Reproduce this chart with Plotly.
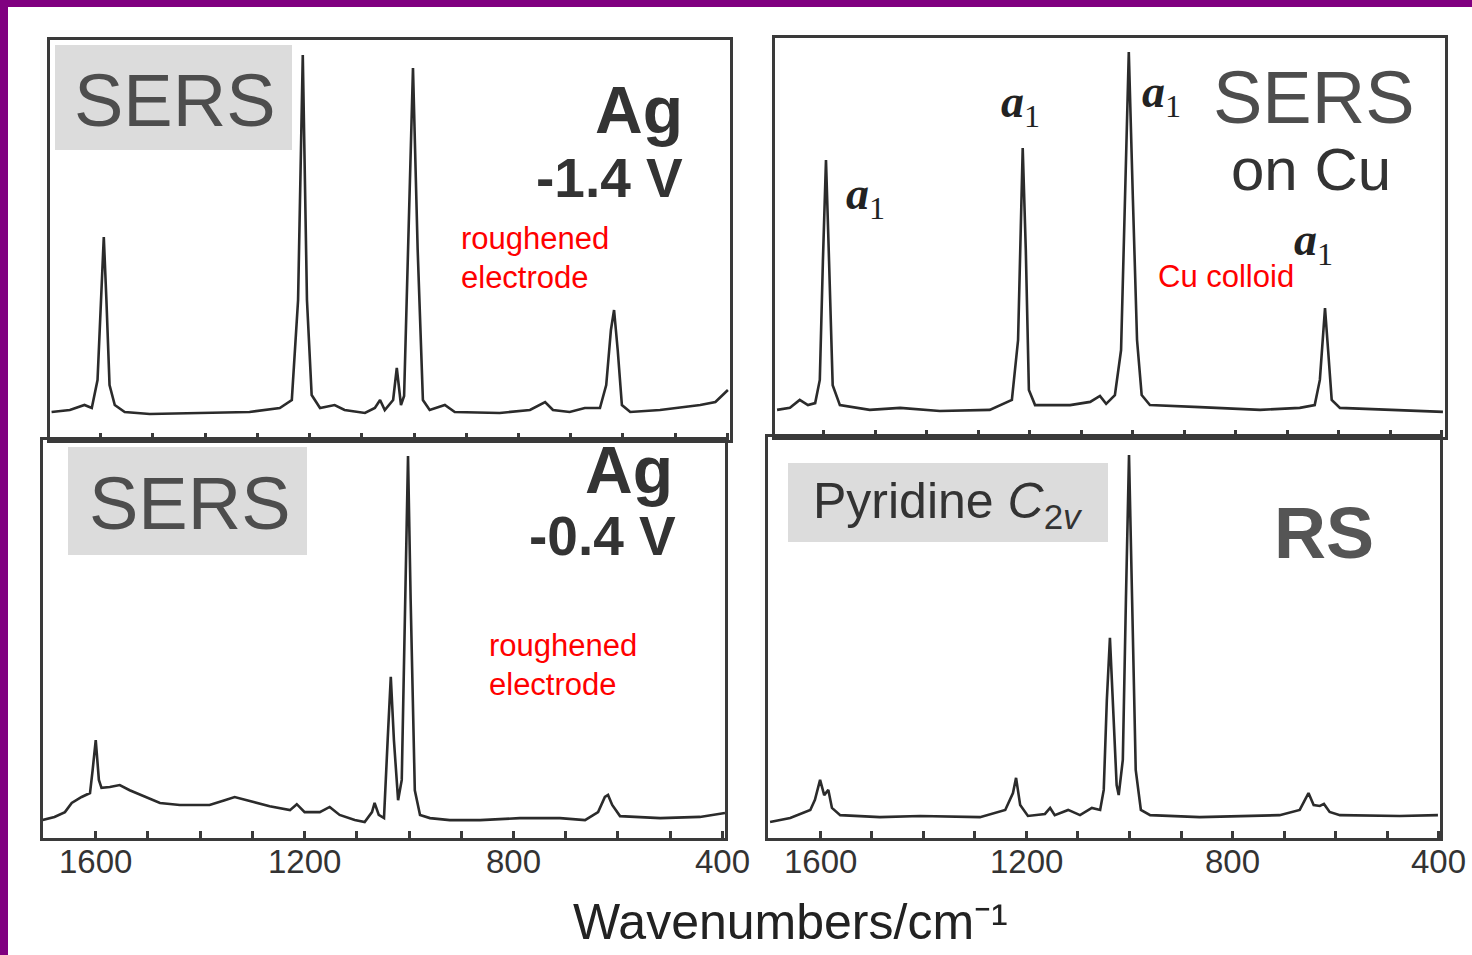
import plotly.graph_objects as go

W, H = 1472, 955

# ---------------- data (wavenumber / relative intensity) ----------------
wn_ag14 = [1694, 1659, 1631, 1617, 1606, 1600, 1594, 1589, 1583, 1573, 1554, 1506, 1410, 1315, 1257,
           1234, 1222, 1213, 1205, 1196, 1180, 1152, 1133, 1094, 1075, 1065, 1056, 1040, 1033, 1025,
           1019, 1012, 1002, 993, 983, 970, 941, 922, 836, 778, 749, 734, 702, 673, 644, 632, 623,
           617, 610, 602, 586, 529, 452, 423, 399]
int_ag14 = [7, 7.5, 8.75, 8, 15, 35, 50.75, 35, 13.75, 8.75, 7, 6.5, 6.75, 7, 8,
            10, 35, 96.25, 35, 11.25, 8, 8.75, 7.5, 6.75, 8, 10, 7.5, 10, 18, 8.75,
            11, 47.5, 93, 47.5, 10, 7.5, 8.75, 7, 6.75, 7.5, 9.5, 7.5, 7, 8, 8, 13.75, 27.5,
            32.5, 22.5, 8.75, 7, 7.5, 8.75, 9.5, 12.5]

wn_ag04 = [1702, 1679, 1659, 1646, 1627, 1611, 1606, 1600, 1594, 1589, 1573, 1554, 1535, 1506, 1477,
           1439, 1382, 1353, 1334, 1305, 1267, 1228, 1215, 1200, 1171, 1152, 1133, 1104, 1085, 1071,
           1066, 1058, 1048, 1041, 1035, 1029, 1021, 1014, 1008, 1002, 997, 989, 979, 960, 922, 864,
           788, 711, 663, 638, 625, 619, 611, 596, 519, 443, 395]
int_ag04 = [4.5, 5.3, 6.5, 8.8, 10.3, 11.3, 17, 24.6, 14.6, 12.6, 12.8, 13.3, 12, 10.3, 8.8,
            8.3, 8.3, 9.5, 10.3, 9.3, 8, 7, 8.5, 6.5, 6.5, 7.8, 5.8, 4.5, 4, 6.5,
            8.8, 5.8, 5, 24.6, 40.5, 24.6, 9.5, 14.6, 60, 96, 60, 12, 5.8, 5, 4.5, 4.5,
            5, 5, 4.5, 6.5, 10.3, 10.8, 8.3, 5.5, 5, 5.3, 6.3]

wn_cu = [1691, 1666, 1647, 1631, 1617, 1608, 1602, 1596, 1590, 1583, 1569, 1511, 1452, 1375, 1278,
         1235, 1223, 1219, 1214, 1208, 1202, 1190, 1122, 1083, 1064, 1052, 1035, 1023, 1016, 1008,
         1000, 992, 983, 967, 870, 753, 676, 647, 637, 631, 627, 621, 614, 598, 482, 398]
int_cu = [6.8, 7.3, 9.3, 8, 8.5, 14.3, 44, 69.4, 44, 13, 8, 6.8, 7.3, 6.5, 6.8,
          9.3, 24.3, 46.9, 72.4, 46.9, 11.8, 8, 8, 8.8, 10.3, 8.3, 10.5, 21.8, 59.4, 96.5,
          59.4, 24.3, 10.5, 8, 7.5, 6.8, 7.3, 8, 14.3, 26.8, 32.3, 21.8, 9.3, 7.3, 6.8, 6.3]

wn_rs = [1697, 1658, 1619, 1610, 1600, 1592, 1584, 1577, 1561, 1484, 1406, 1290, 1241, 1226, 1220,
         1212, 1197, 1164, 1154, 1145, 1119, 1096, 1073, 1057, 1050, 1044, 1038, 1032, 1025, 1021,
         1013, 1007, 1001, 995, 988, 978, 960, 864, 709, 670, 659, 653, 643, 631, 623, 612, 592,
         476, 402]
int_rs = [4, 5, 7, 9.5, 14.5, 10.7, 12, 7.5, 5.7, 5.2, 5.5, 5.2, 7, 11.2, 15,
          8.2, 5.5, 6, 7.5, 5.7, 7, 5.7, 7.5, 7, 12, 34.4, 49.9, 34.4, 13.2, 10.7,
          19.5, 59.4, 95.5, 59.4, 17, 7, 5.7, 5.2, 5.7, 7, 9.5, 11.2, 8.2, 8, 8.5, 6.5, 5.7,
          5.5, 5.7]

tick_vals = [1600, 1500, 1400, 1300, 1200, 1100, 1000, 900, 800, 700, 600, 500, 400]
label_vals = [1600, 1200, 800, 400]
label_text = ["1600", "1200", "800", "400"]

# ---------------- helpers ----------------
def X(px):
    return px / W

def Y(py):
    return 1 - py / H

LINE = "#2b2b2b"
FRAME = "#3a3a3a"

fig = go.Figure()
series = [(wn_ag14, int_ag14, "x", "y"),
          (wn_ag04, int_ag04, "x2", "y2"),
          (wn_cu, int_cu, "x3", "y3"),
          (wn_rs, int_rs, "x4", "y4")]
for xs, ys, xa, ya in series:
    fig.add_trace(go.Scatter(x=xs, y=ys, xaxis=xa, yaxis=ya, mode="lines",
                             line=dict(color=LINE, width=2.6), hoverinfo="skip"))

def xax(dom, rng, anchor):
    return dict(domain=dom, range=rng, anchor=anchor, showline=True, mirror=True,
                linecolor=FRAME, linewidth=3, showgrid=False, zeroline=False,
                tickmode="array", tickvals=tick_vals,
                ticks="inside", ticklen=7, tickwidth=2.5, tickcolor=FRAME,
                showticklabels=False)

def yax(dom, anchor):
    return dict(domain=dom, range=[0, 100], anchor=anchor, showline=True, mirror=True,
                linecolor=FRAME, linewidth=3, showgrid=False, zeroline=False,
                ticks="", showticklabels=False)

fig.update_layout(
    width=W, height=H, autosize=False, margin=dict(l=0, r=0, t=0, b=0, pad=0),
    paper_bgcolor="white", plot_bgcolor="rgba(0,0,0,0)", showlegend=False,
    xaxis=xax([X(50), X(730)], [1697, 395], "y"),
    yaxis=yax([Y(440), Y(40)], "x"),
    xaxis2=xax([X(43), X(725)], [1701, 395], "y2"),
    yaxis2=yax([Y(838), Y(440)], "x2"),
    xaxis3=xax([X(775), X(1445)], [1695, 394], "y3"),
    yaxis3=yax([Y(437), Y(38)], "x3"),
    xaxis4=xax([X(768), X(1440)], [1701, 398], "y4"),
    yaxis4=yax([Y(838), Y(437)], "x4"),
)

shapes = []
# purple frame edges
shapes.append(dict(type="rect", xref="paper", yref="paper", x0=0, x1=X(8), y0=0, y1=1,
                   fillcolor="#800080", line=dict(width=0), layer="above"))
shapes.append(dict(type="rect", xref="paper", yref="paper", x0=0, x1=1, y0=Y(7), y1=1,
                   fillcolor="#800080", line=dict(width=0), layer="above"))
# grey label boxes
for (x0, y0, x1, y1) in [(55, 45, 292, 150), (68, 447, 307, 555), (788, 463, 1108, 542)]:
    shapes.append(dict(type="rect", xref="paper", yref="paper", x0=X(x0), x1=X(x1),
                       y0=Y(y1), y1=Y(y0), fillcolor="#dcdcdc", line=dict(width=0),
                       layer="below"))
fig.update_layout(shapes=shapes)

SANS = "Liberation Sans, Arial, sans-serif"
SERIF = "Liberation Serif, Times New Roman, serif"

def ann(text, px, py, size, color="#333333", xanchor="center", family=SANS, bold=False):
    t = "<b>%s</b>" % text if bold else text
    return dict(text=t, x=X(px), y=Y(py), xref="paper", yref="paper", showarrow=False,
                xanchor=xanchor, yanchor="middle", font=dict(family=family, size=size, color=color))

anns = [
    ann("SERS", 175, 100, 74, "#4d4d4d"),
    ann("Ag", 685, 110, 66, "#333333", "right", bold=True),
    ann("-1.4 V", 685, 178, 55, "#333333", "right", bold=True),
    ann("roughened", 459, 238, 31, "#ff0000", "left"),
    ann("electrode", 459, 277, 31, "#ff0000", "left"),

    ann("SERS", 190, 503, 74, "#4d4d4d"),
    ann("Ag", 675, 470, 66, "#333333", "right", bold=True),
    ann("-0.4 V", 678, 536, 55, "#333333", "right", bold=True),
    ann("roughened", 487, 645, 31, "#ff0000", "left"),
    ann("electrode", 487, 684, 31, "#ff0000", "left"),

    ann("SERS", 1314, 98, 74, "#4d4d4d"),
    ann("on Cu", 1311, 170, 60, "#333333"),
    ann("Cu colloid", 1226, 276, 31, "#ff0000"),
    ann("<b><i>a</i></b><sub>1</sub>", 865, 197, 46, "#222222", family=SERIF),
    ann("<b><i>a</i></b><sub>1</sub>", 1020, 105, 46, "#222222", family=SERIF),
    ann("<b><i>a</i></b><sub>1</sub>", 1161, 95, 46, "#222222", family=SERIF),
    ann("<b><i>a</i></b><sub>1</sub>", 1313, 243, 46, "#222222", family=SERIF),

    ann("Pyridine <i>C</i><sub>2<i>v</i></sub>", 948, 505, 50, "#333333"),
    ann("RS", 1324, 533, 72, "#555555", bold=True),

    ann("Wavenumbers/cm\u207b\u00b9", 790, 922, 50, "#222222"),
]
# tick labels of the two lower axes, placed through the axes' own scales
for xref in ("x2", "x4"):
    for v, t in zip(label_vals, label_text):
        anns.append(dict(text=t, x=v, xref=xref, y=Y(861), yref="paper", showarrow=False,
                         xanchor="center", yanchor="middle",
                         font=dict(family=SANS, size=33, color="#333333")))
fig.update_layout(annotations=anns)

fig.write_html("out.html")
